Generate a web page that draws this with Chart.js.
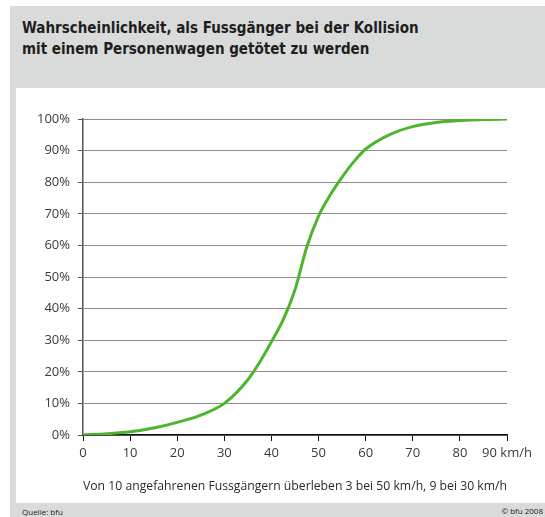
<!DOCTYPE html>
<html>
<head>
<meta charset="utf-8">
<script src="https://cdn.jsdelivr.net/npm/chart.js@4"></script>
<style>
  body { margin: 0; background: #fff; width: 545px; height: 517px; overflow: hidden; position: relative; }
  #frame { position: absolute; left: 10px; top: 6px; width: 535px; height: 511px; background: #d9dada; }
  #title { position: absolute; left: 12px; top: 12px; font-family: "Liberation Sans Narrow", "DejaVu Sans Condensed", sans-serif; font-weight: bold; font-size: 15px; line-height: 21px; color: #1e1e1e; }
  #panel { position: absolute; left: 16px; top: 88px; width: 529px; height: 415px; background: #fff; }
  #src { position: absolute; left: 22px; top: 506px; font-family: "Open Sans", sans-serif; font-size: 8px; color: #222; }
  #copy { position: absolute; right: 2px; top: 505px; font-family: "Open Sans", sans-serif; font-size: 8px; color: #222; }
</style>
</head>
<body>
<div id="frame">
  <div id="title">Wahrscheinlichkeit, als Fussgänger bei der Kollision<br>mit einem Personenwagen getötet zu werden</div>
</div>
<div id="panel"><canvas id="chartCanvas" width="529" height="415"></canvas></div>
<div id="src">Quelle: bfu</div>
<div id="copy">© bfu 2008</div>
<script>
// speed in km/h and probability of death in %
const speeds = [0, 5, 10, 15, 20, 25, 30, 35, 37.5, 40, 42.5, 45, 47.5, 50, 52.5, 55, 57.5, 60, 65, 70, 75, 80, 85, 90];
const deathRate = [0, 0.4, 1, 2.2, 4, 6.3, 10, 17.5, 23, 29.5, 36.5, 46, 59.5, 69.3, 76, 81.6, 86.5, 90.5, 95, 97.6, 98.9, 99.5, 99.85, 100];
const xTicks = [0, 10, 20, 30, 40, 50, 60, 70, 80, 90];
const axisNote = 'Von 10 angefahrenen Fussgängern überleben 3 bei 50 km/h, 9 bei 30 km/h';

const tickFont = { family: 'Open Sans', size: 13 };
const ctx = document.getElementById('chartCanvas').getContext('2d');

new Chart(ctx, {
  type: 'line',
  data: {
    datasets: [{
      data: speeds.map((s, i) => ({ x: s, y: deathRate[i] })),
      borderColor: '#4cb52c',
      borderWidth: 3,
      pointRadius: 0,
      fill: false,
      cubicInterpolationMode: 'monotone'
    }]
  },
  options: {
    responsive: false,
    animation: false,
    layout: { padding: { top: 31, right: 38, left: 0, bottom: 0 } },
    plugins: { legend: { display: false }, tooltip: { enabled: false } },
    scales: {
      x: {
        type: 'linear',
        min: 0, max: 90,
        afterBuildTicks: s => { s.ticks = xTicks.map(v => ({ value: v })); },
        afterFit: s => { s.height = 68; },
        grid: { drawOnChartArea: false, drawTicks: true, tickLength: 6, tickColor: '#111' },
        border: { color: '#111', width: 1.5 },
        ticks: {
          color: '#3a3a3a', font: tickFont, padding: 4, maxRotation: 0, autoSkip: false,
          callback: v => v === 90 ? '90 km/h' : String(v)
        },
        title: { display: true, text: axisNote, color: '#2a2a2a', font: { family: 'Open Sans', size: 12.5 }, padding: { top: 8, bottom: 9 } }
      },
      y: {
        min: 0, max: 100,
        ticks: { stepSize: 10, color: '#3a3a3a', font: tickFont, padding: 8, callback: v => v + '%' },
        afterFit: s => { s.width = 67; },
        grid: { color: '#8c8c8c', lineWidth: 1, tickLength: 5, tickColor: '#555' },
        border: { color: '#555', width: 1.5 }
      }
    }
  }
});
</script>
</body>
</html>
